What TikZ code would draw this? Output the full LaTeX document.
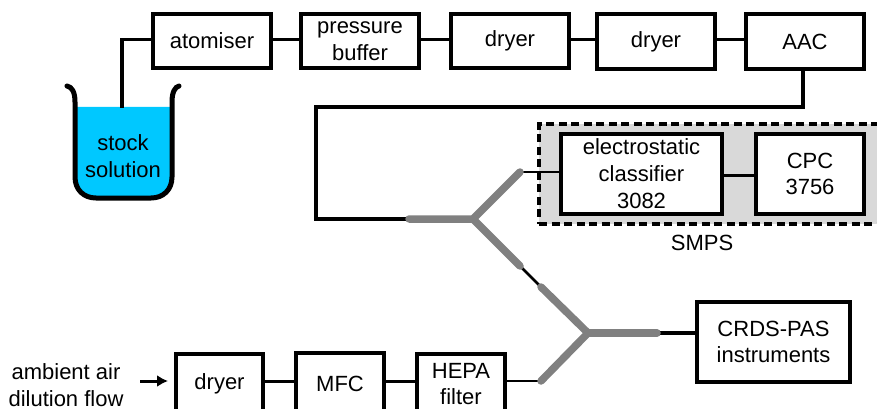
\documentclass[tikz,border=0pt]{standalone}
\usepackage{fontspec}
\usetikzlibrary{arrows.meta}
\setmainfont{Liberation Sans}
\definecolor{liquid}{RGB}{0,200,255}
\definecolor{pipe}{RGB}{128,128,128}
\definecolor{shade}{RGB}{217,217,217}
\tikzset{
  unit/.style={draw=black,line width=3.4pt,fill=white,inner sep=0pt,align=center,font=\fontsize{22}{26.5}\selectfont,text=black},
  label/.style={inner sep=0pt,align=center,font=\fontsize{22}{26.5}\selectfont},
  tube/.style={draw=black,line width=3.3pt},
  thin tube/.style={draw=black,line width=2.8pt},
  ytube/.style={draw=pipe,line width=7.5pt,line cap=round,line join=bevel}
}
\newcommand{\unitbox}[6]{\node[unit,minimum width=#4pt-#2pt,minimum height=#5pt-#3pt,anchor=center] (#1) at ({(#2+#4)/2},{(#3+#5)/2}) {#6};}
\begin{document}
\begin{tikzpicture}[x=1pt,y=-1pt]
\useasboundingbox (0,0) rectangle (877,409);
% SMPS
\node[draw=black,fill=shade,line width=3.2pt,dash pattern=on 8pt off 4.5pt,minimum width=345pt,minimum height=100pt,anchor=center,inner sep=0pt] (smps) at (711.5,174) {};
% beaker
\fill[liquid] (75,107) -- (172,107) -- (172,178) .. controls (172,190) and (162,198) .. (150,198) -- (96,198) .. controls (84,198) and (75,190) .. (75,178) -- cycle;
\draw[line width=5pt,line cap=round] (67,86) .. controls (72,87) and (75,92) .. (75,102) -- (75,177) .. controls (75,190) and (84,198) .. (96,198) -- (151,198) .. controls (163,198) and (172,190) .. (172,177) -- (172,102) .. controls (172,92) and (175,87) .. (179,86);
\node[label] (stock) at (123,156) {stock\\solution};
% boxes
\unitbox{atom}{153}{14}{271}{68}{atomiser}
\unitbox{buf}{301}{14}{419}{68}{pressure\\buffer}
\unitbox{dry1}{451}{14}{569}{68}{dryer}
\unitbox{dry2}{597}{14}{715}{69}{dryer}
\unitbox{aac}{746}{14}{864}{69}{AAC}
\unitbox{ec}{561}{134}{722}{214}{electrostatic\\[0.5pt]classifier\\[0.5pt]3082}
\unitbox{cpc}{756}{134}{864}{214}{CPC\\3756}
\unitbox{crds}{697}{302}{850}{382}{CRDS-PAS\\instruments}
\unitbox{dry3}{176}{354}{263}{414}{dryer}
\unitbox{mfc}{296}{353}{384}{414}{MFC}
\unitbox{hepa}{417}{354}{505}{414}{HEPA\\filter}
\node[label] (smpslab) at (702,243) {SMPS};
\node[label] (amb) at (66,385) {ambient air\\dilution flow};
% coordinates
\coordinate (jA) at (473,219);
\coordinate (jB) at (588,333);
\coordinate (aL) at (409,219);
\coordinate (aU) at (520,172);
\coordinate (aD) at (520,266);
\coordinate (bU) at (541,287);
\coordinate (bD) at (541,381);
\coordinate (bR) at (657,333);
\coordinate (liq) at (122,108);
\coordinate (arS) at (140,381);
\coordinate (arE) at (168,381);
\coordinate (c1) at (803,107);
\coordinate (c2) at (316,107);
\coordinate (c3) at (316,219);
\coordinate (row) at (0,39.5);
\coordinate (lowrow) at (0,381.5);
\coordinate (cls) at (0,175.5);
% connectors
\draw[tube] (liq) |- (atom.west |- row);
\draw[tube] (atom.east |- row) -- (buf.west |- row);
\draw[tube] (buf.east |- row) -- (dry1.west |- row);
\draw[tube] (dry1.east |- row) -- (dry2.west |- row);
\draw[tube] (dry2.east |- row) -- (aac.west |- row);
\draw[tube,line join=miter] (aac.south -| c1) -- (c1) -- (c2) -- (c3) -- (aL);
\draw[tube] (ec.east |- cls) -- (cpc.west |- cls);
\draw[thin tube] (aU) -- (ec.west |- aU);
\draw[thin tube] (aD) -- (bU);
\draw[tube] (bR) -- (crds.west |- bR);
\draw[thin tube] (bD) -- (hepa.east |- bD);
\draw[tube] (dry3.east |- lowrow) -- (mfc.west |- lowrow);
\draw[tube] (mfc.east |- lowrow) -- (hepa.west |- lowrow);
\draw[ytube] (aL) -- (jA) -- (aU);
\draw[ytube] (jA) -- (aD);
\draw[ytube] (bU) -- (jB) -- (bD);
\draw[ytube] (jB) -- (bR);
\draw[line width=3pt,-{Latex[length=11pt,width=12pt]}] (arS) -- (arE);
\end{tikzpicture}
\end{document}
